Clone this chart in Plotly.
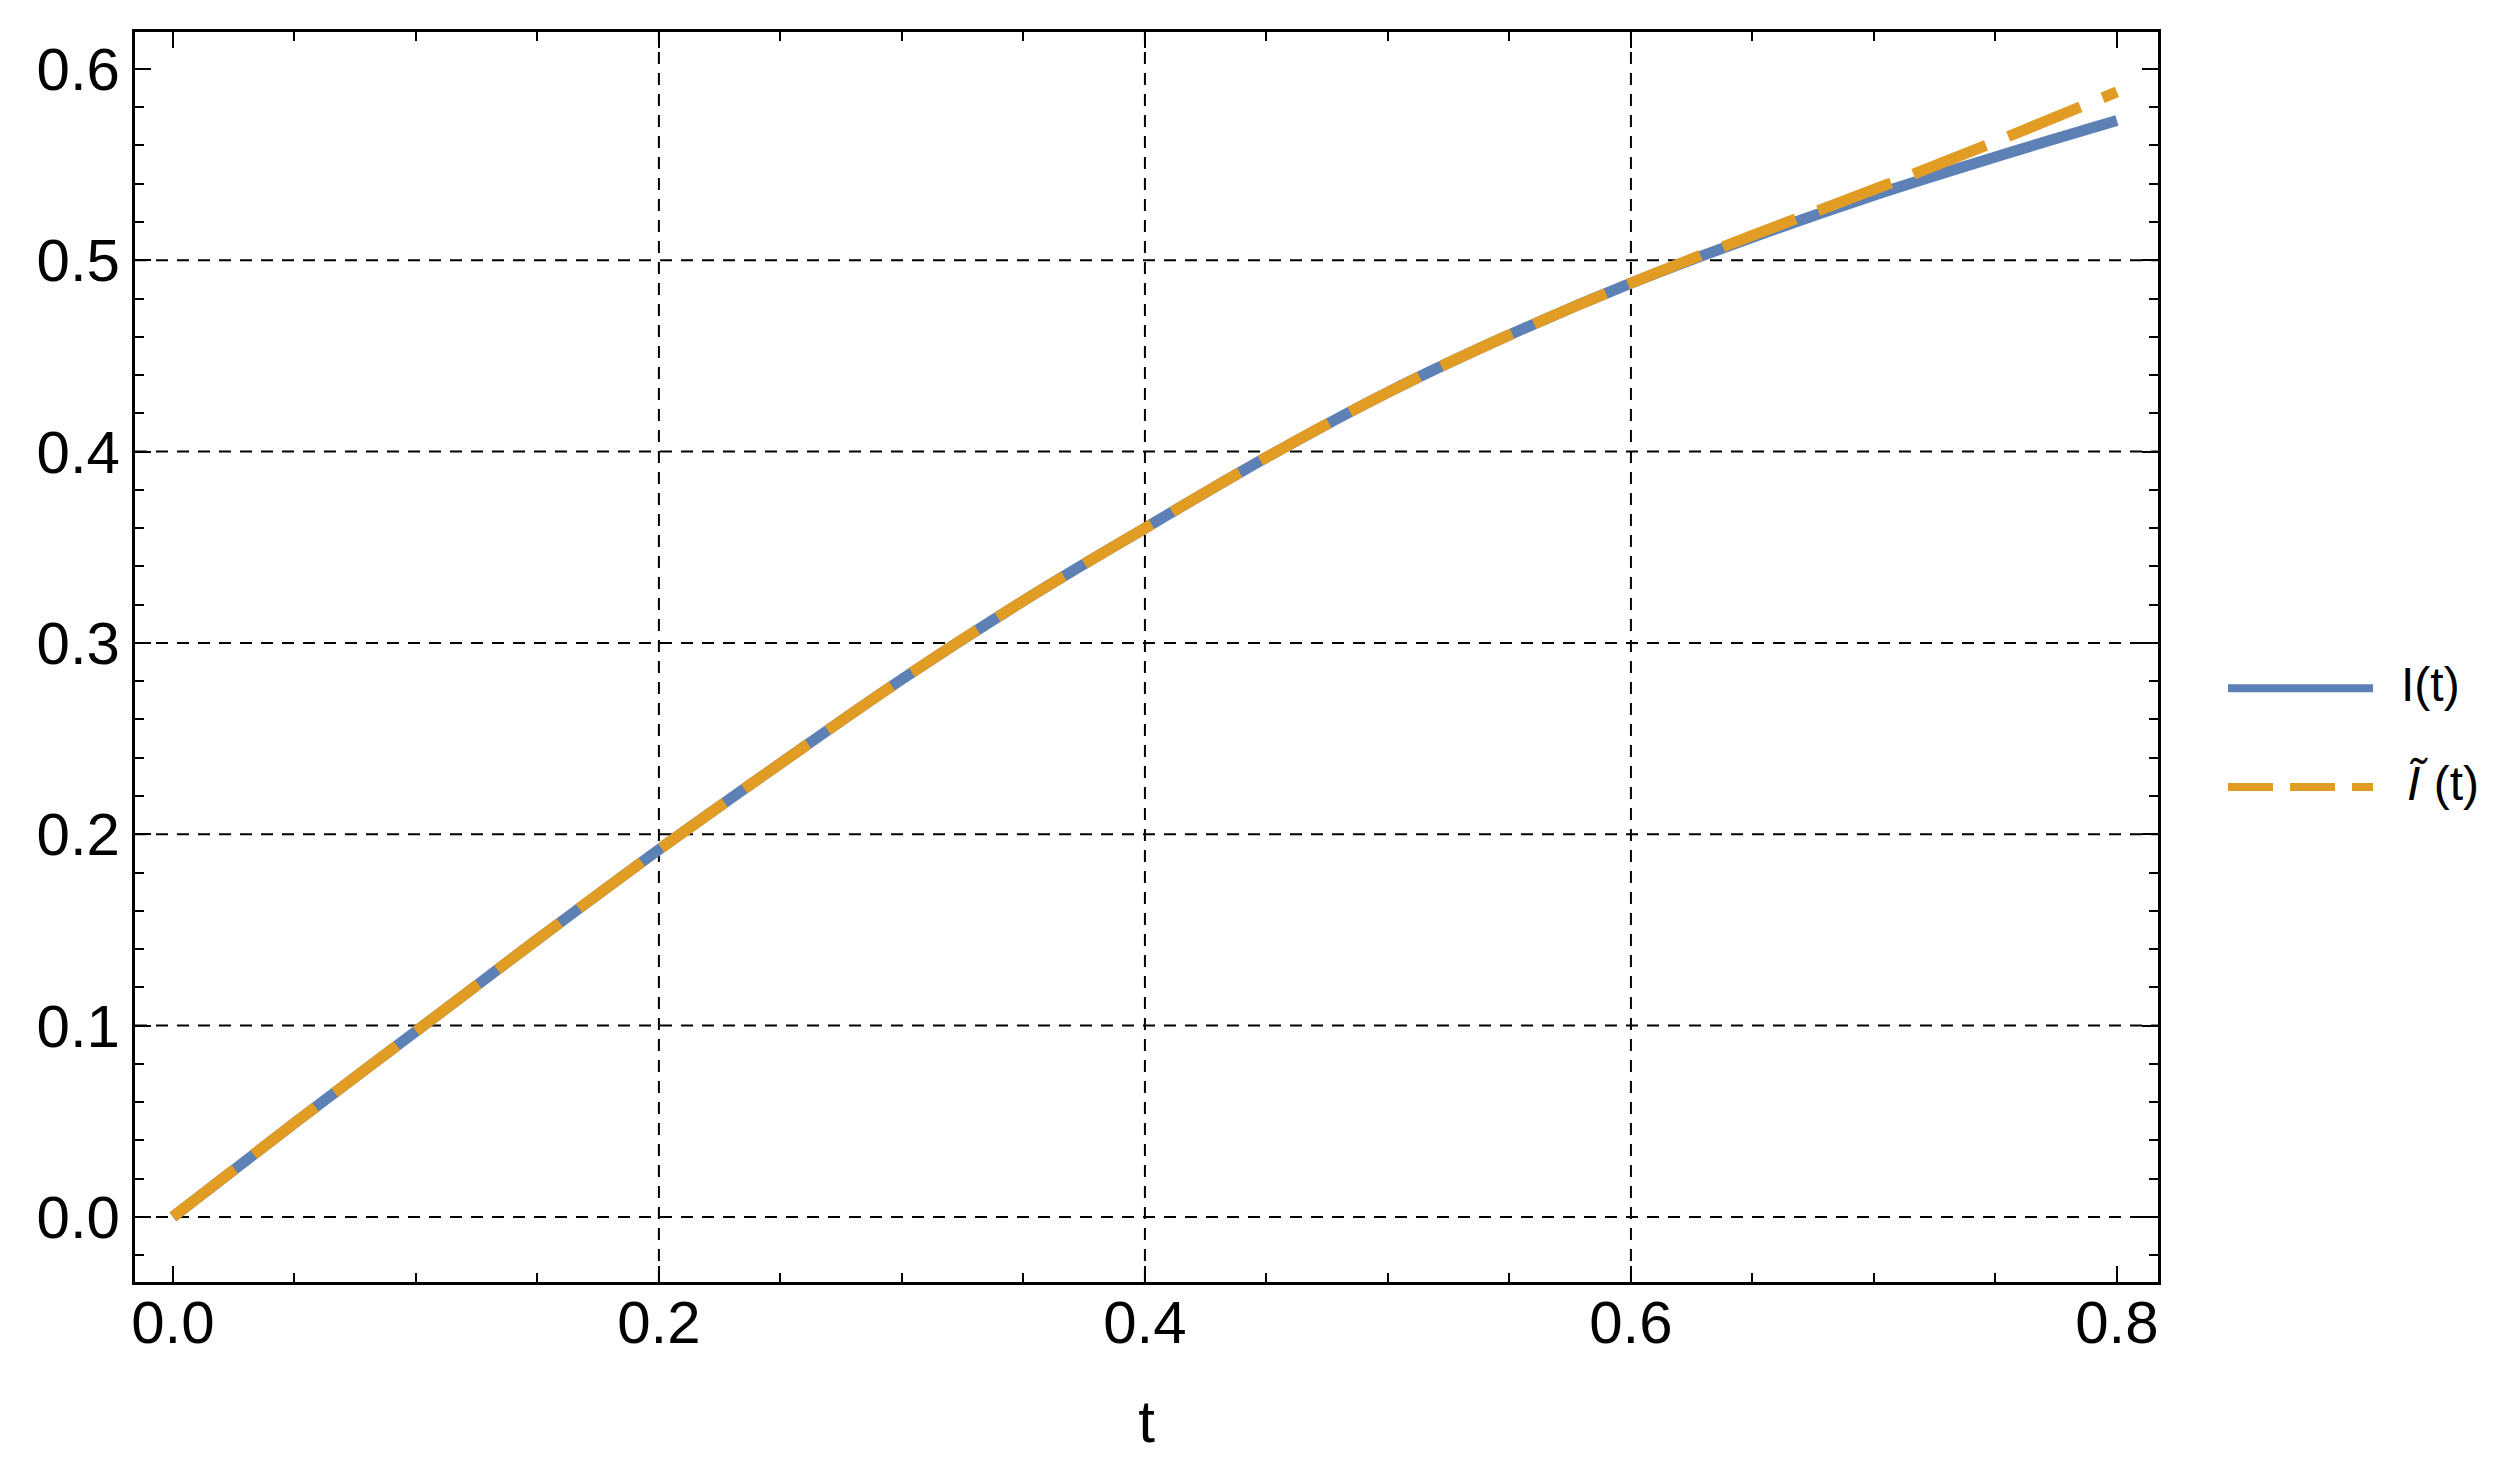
import plotly.graph_objects as go

# values
t = [0.0, 0.05, 0.1, 0.15, 0.2, 0.25, 0.3, 0.35, 0.4, 0.45, 0.5, 0.55, 0.6, 0.65, 0.7, 0.75, 0.8]
I_exact = [0.0, 0.049, 0.097, 0.145, 0.192, 0.237, 0.281, 0.322, 0.360, 0.397, 0.431, 0.461, 0.488, 0.512, 0.534, 0.554, 0.573]
I_approx = [0.0, 0.049, 0.097, 0.145, 0.192, 0.237, 0.281, 0.322, 0.360, 0.397, 0.431, 0.461, 0.488, 0.513, 0.537, 0.562, 0.588]

x_grid = [0.2, 0.4, 0.6]
y_grid = [0.0, 0.1, 0.2, 0.3, 0.4, 0.5]

legend_labels = ["I(t)", "<i>Ĩ</i> (t)"]

blue = "#5E81B5"
orange = "#E19C24"
font = "Liberation Sans, Arial, sans-serif"

fig = go.Figure()
fig.add_trace(go.Scatter(x=t, y=I_exact, mode="lines", line=dict(color=blue, width=11),
                         line_shape="spline", showlegend=False))
fig.add_trace(go.Scatter(x=t, y=I_approx, mode="lines", line=dict(color=orange, width=11, dash="78px,24px"),
                         line_shape="spline", showlegend=False))

# dashed grid only at interior ticks
shapes = []
for gx in x_grid:
    shapes.append(dict(type="line", xref="x", yref="paper", x0=gx, x1=gx, y0=0, y1=1,
                       line=dict(color="black", width=2, dash="12px,9px"), layer="below"))
for gy in y_grid:
    shapes.append(dict(type="line", xref="paper", yref="y", x0=0, x1=1, y0=gy, y1=gy,
                       line=dict(color="black", width=2, dash="12px,9px"), layer="below"))

# hand-made legend to the right of the frame
shapes.append(dict(type="line", xref="paper", yref="paper", x0=1.0346, x1=1.1063, y0=0.475, y1=0.475,
                   line=dict(color=blue, width=8)))
shapes.append(dict(type="line", xref="paper", yref="paper", x0=1.0346, x1=1.1063, y0=0.396, y1=0.396,
                   line=dict(color=orange, width=8, dash="45px,17px")))
annotations = [
    dict(text=legend_labels[0], xref="paper", yref="paper", x=1.119, y=0.478, xanchor="left", yanchor="middle",
         showarrow=False, font=dict(family=font, size=48, color="black")),
    dict(text=legend_labels[1], xref="paper", yref="paper", x=1.122, y=0.399, xanchor="left", yanchor="middle",
         showarrow=False, font=dict(family=font, size=48, color="black")),
]

axis_common = dict(
    showline=True, linecolor="black", linewidth=3, mirror="allticks",
    ticks="inside", ticklen=16, tickwidth=2, tickcolor="black",
    showgrid=False, zeroline=False, automargin=False,
    tickfont=dict(family=font, size=60, color="black"),
    tickformat=".1f",
)

fig.update_layout(
    width=2497, height=1469,
    margin=dict(l=127, r=347, t=24, b=195),
    paper_bgcolor="white", plot_bgcolor="white",
    shapes=shapes, annotations=annotations,
    xaxis=dict(axis_common, range=[-0.0156, 0.8169], tickmode="linear", tick0=0, dtick=0.2,
               ticklabelstandoff=-14,
               minor=dict(dtick=0.05, tick0=0, ticks="inside", ticklen=9, tickwidth=2, tickcolor="black"),
               title=dict(text="t", font=dict(family=font, size=60, color="black"), standoff=45)),
    yaxis=dict(axis_common, range=[-0.034, 0.6193], tickmode="linear", tick0=0, dtick=0.1,
               minor=dict(dtick=0.02, tick0=0, ticks="inside", ticklen=9, tickwidth=2, tickcolor="black")),
)

fig.write_html("out.html")
